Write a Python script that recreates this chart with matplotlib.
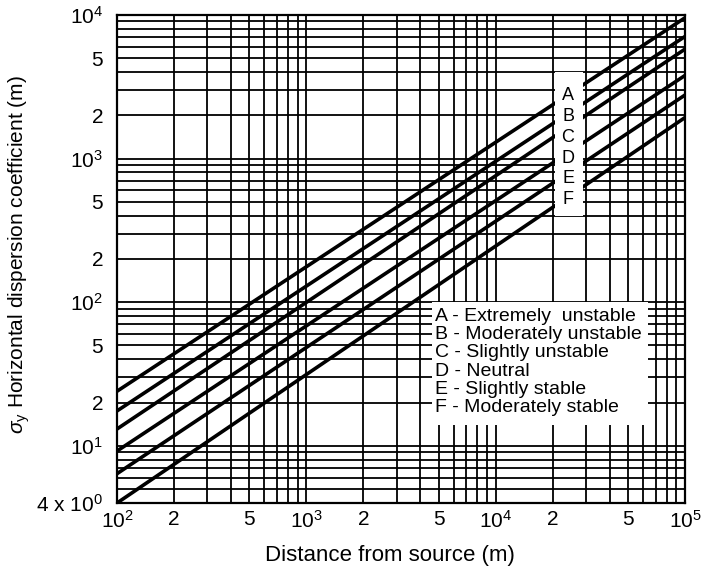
import matplotlib.pyplot as plt
from matplotlib.patches import Rectangle
from matplotlib.ticker import LogLocator, FixedLocator, FixedFormatter, NullFormatter

plt.rcParams['font.family'] = ['Liberation Sans', 'DejaVu Sans']
plt.rcParams['mathtext.fontset'] = 'custom'
plt.rcParams['mathtext.rm'] = 'Liberation Sans'
plt.rcParams['mathtext.it'] = 'Liberation Sans:italic'

# stability classes, sigma_y read at x = 100 m and x = 100 km
classes = ['A', 'B', 'C', 'D', 'E', 'F']
names = ['A - Extremely  unstable', 'B - Moderately unstable', 'C - Slightly unstable',
         'D - Neutral', 'E - Slightly stable', 'F - Moderately stable']
x_ends = [1e2, 1e5]
sigma_100m = [24, 17.5, 13.1, 9.2, 6.4, 4.0]
sigma_100km = [9550, 7080, 5780, 3790, 2770, 1930]

xticks = [1e2, 2e2, 5e2, 1e3, 2e3, 5e3, 1e4, 2e4, 5e4, 1e5]
xlabels = ['$10^2$', '2', '5', '$10^3$', '2', '5', '$10^4$', '2', '5', '$10^5$']
yticks = [4, 1e1, 2e1, 5e1, 1e2, 2e2, 5e2, 1e3, 2e3, 5e3, 1e4]
ylabels = ['4 x $10^0$', '$10^1$', '2', '5', '$10^2$', '2', '5', '$10^3$', '2', '5', '$10^4$']

fig = plt.figure(figsize=(7.07, 5.72), dpi=100)
ax = fig.add_axes([0.1655, 0.1206, 0.8035, 0.8534])
ax.set_xscale('log')
ax.set_yscale('log')
ax.set_xlim(1e2, 1e5)
ax.set_ylim(4, 1e4)

# lines
for s0, s1 in zip(sigma_100m, sigma_100km):
    ax.plot(x_ends, [s0, s1], color='black', lw=2.6, zorder=2, solid_capstyle='butt')

# grid
ax.xaxis.set_major_locator(FixedLocator(xticks))
ax.xaxis.set_major_formatter(FixedFormatter(xlabels))
ax.yaxis.set_major_locator(FixedLocator(yticks))
ax.yaxis.set_major_formatter(FixedFormatter(ylabels))
ax.xaxis.set_minor_locator(LogLocator(base=10, subs=range(1, 10), numticks=20))
ax.yaxis.set_minor_locator(LogLocator(base=10, subs=range(1, 10), numticks=20))
ax.xaxis.set_minor_formatter(NullFormatter())
ax.yaxis.set_minor_formatter(NullFormatter())
ax.grid(True, which='both', color='black', lw=1.3)
ax.set_axisbelow(True)
ax.tick_params(which='both', length=0, labelsize=15)
ax.tick_params(axis='x', pad=5)
ax.tick_params(axis='y', pad=10)
for sp in ax.spines.values():
    sp.set_linewidth(1.6)

# white column for the class letters
ax.add_patch(Rectangle((2.06e4, 400), 2.88e4 - 2.06e4, 4000 - 400,
                       facecolor='white', edgecolor='none', zorder=3))
for i, c in enumerate(classes):
    ax.text(0.794, 0.834 - i * 0.0425, c, transform=ax.transAxes, fontsize=13,
            ha='center', va='center', zorder=4)

# white box for the legend
ax.add_patch(Rectangle((4.6e3, 14), 6.4e4 - 4.6e3, 100 - 14,
                       facecolor='white', edgecolor='none', zorder=3))
for i, n in enumerate(names):
    ax.text(0.559, 0.383 - i * 0.0376, n, transform=ax.transAxes, fontsize=14,
            ha='left', va='center', zorder=4)

ax.set_xlabel('Distance from source (m)', fontsize=16)
ax.xaxis.set_label_coords(0.48, -0.086)
ax.set_ylabel(r'$\sigma_\mathrm{y}$ Horizontal dispersion coefficient (m)', fontsize=15)
ax.yaxis.set_label_coords(-0.15, 0.508)

fig.savefig('out.png', dpi=100)
